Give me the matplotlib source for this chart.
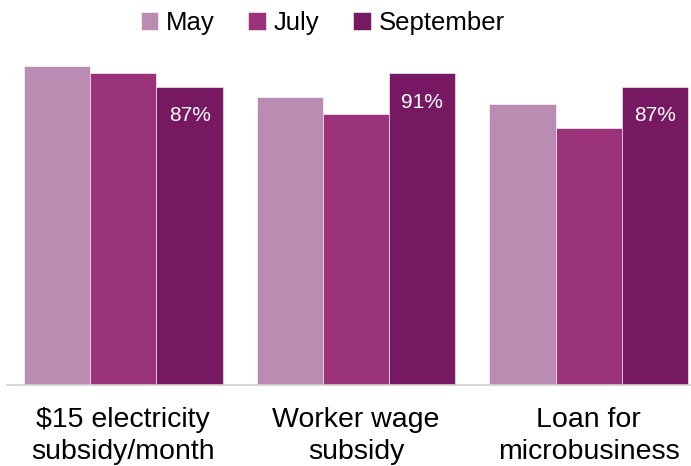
import matplotlib
matplotlib.use('Agg')
import matplotlib.pyplot as plt
import numpy as np

categories = ['$15 electricity\nsubsidy/month', 'Worker wage\nsubsidy', 'Loan for\nmicrobusiness']
months = ['May', 'July', 'September']
may = [93, 84, 82]
july = [91, 79, 75]
september = [87, 91, 87]
colors = ['#BA8CB1', '#9B337B', '#771862']

plt.rcParams['font.family'] = ['Liberation Sans', 'DejaVu Sans']

fig = plt.figure(figsize=(6.91, 4.66), dpi=100)
ax = fig.add_axes([7 / 691, 81 / 466, 698 / 691, 343 / 466])

x = np.arange(len(categories))
w = 0.285
series = [may, july, september]
bars = []
for i, (vals, c, name) in enumerate(zip(series, colors, months)):
    b = ax.bar(x + (i - 1) * w, vals, w, color=c, edgecolor='white', linewidth=0.4, label=name)
    bars.append(b)

# value labels only on the September bars
for rect, v in zip(bars[2], september):
    ax.text(rect.get_x() + rect.get_width() / 2, v - 8.5, f'{v}%', ha='center', va='center',
            color='white', fontsize=15)

ax.set_xlim(-0.5, 2.5)
ax.set_ylim(0, 100)
ax.set_xticks(x)
ax.set_xticklabels(categories, fontsize=20.5, linespacing=1.3)
ax.tick_params(axis='x', length=0, pad=16)
ax.set_yticks([])
for s in ['top', 'right', 'left']:
    ax.spines[s].set_visible(False)
ax.spines['bottom'].set_color('#D0D0D0')
ax.spines['bottom'].set_linewidth(1.2)

fig.legend(loc='center', bbox_to_anchor=(0.467, 0.951), ncol=3, frameon=False,
           fontsize=18.5, handlelength=0.7, handleheight=0.7, handletextpad=0.3,
           columnspacing=1.3)

fig.savefig('out.png', dpi=100)
